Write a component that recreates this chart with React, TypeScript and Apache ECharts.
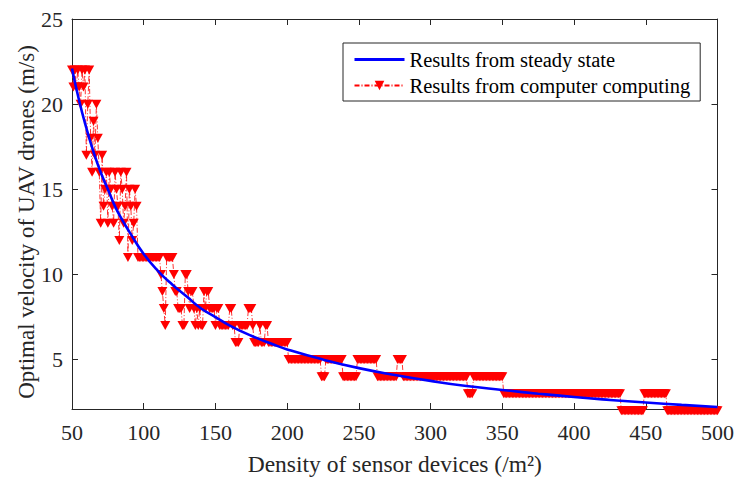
import React, { useEffect, useRef } from "react";
import * as echarts from "echarts";

// Steady-state curve
const steadyDensity = [50, 55, 60, 65, 70, 75, 80, 85, 90, 100, 110, 120, 130, 140, 150, 160, 175, 190, 200, 225, 250, 275, 300, 325, 350, 375, 400, 425, 450, 475, 500];
const steadyVelocity = [22.1, 20.2, 18.6, 17.2, 16.0, 15.0, 14.0, 13.2, 12.5, 11.2, 10.2, 9.4, 8.7, 8.0, 7.5, 7.0, 6.4, 5.9, 5.6, 5.0, 4.5, 4.1, 3.75, 3.45, 3.22, 3.0, 2.8, 2.63, 2.48, 2.34, 2.22];

// Computer computing results: runs of [first density, last density, velocity]
const computedRuns: [number, number, number][] = [
  [50, 50, 22], [51, 51, 21], [52, 52, 22], [53, 53, 21], [54, 54, 22], [55, 55, 21], [56, 56, 20], [57, 57, 22],
  [58, 58, 21], [59, 59, 22], [60, 60, 17], [61, 61, 20], [62, 62, 22], [63, 63, 18], [64, 64, 16], [65, 65, 19],
  [66, 66, 17], [67, 67, 20], [68, 68, 18], [69, 69, 16], [70, 70, 13], [71, 71, 17], [72, 72, 14], [73, 73, 15],
  [74, 74, 16], [75, 75, 13], [76, 76, 16], [77, 77, 15], [78, 78, 14], [79, 79, 13], [80, 80, 16], [81, 81, 15],
  [82, 82, 14], [83, 83, 12], [84, 84, 16], [85, 85, 15], [86, 86, 13], [87, 87, 14], [88, 88, 16], [89, 89, 11],
  [90, 90, 15], [91, 91, 14], [92, 92, 12], [93, 93, 13], [94, 94, 15], [95, 95, 14], [96, 111, 11], [112, 112, 10],
  [113, 113, 9], [114, 114, 8], [115, 115, 7], [116, 120, 11], [121, 121, 10], [122, 123, 9], [124, 126, 8],
  [127, 128, 7], [129, 130, 10], [131, 131, 9], [132, 132, 8], [133, 134, 9], [135, 135, 8], [136, 136, 7],
  [137, 137, 8], [138, 138, 7], [139, 139, 8], [140, 141, 7], [142, 142, 9], [143, 143, 8], [144, 145, 9],
  [146, 149, 8], [150, 150, 7], [151, 152, 8], [153, 159, 7], [160, 161, 8], [162, 163, 7], [164, 166, 6],
  [167, 172, 7], [173, 175, 8], [176, 176, 7], [177, 180, 6], [181, 181, 7], [182, 184, 6], [185, 186, 7],
  [187, 200, 6], [201, 223, 5], [224, 226, 4], [227, 238, 5], [239, 248, 4], [249, 262, 5], [263, 276, 4],
  [277, 280, 5], [281, 325, 4], [326, 329, 3], [330, 350, 4], [351, 432, 3], [433, 448, 2], [449, 464, 3],
  [465, 500, 2],
];

const xTicks = [50, 100, 150, 200, 250, 300, 350, 400, 450, 500];
const yTicks = [5, 10, 15, 20, 25];

const FONT = "'Liberation Serif', 'Times New Roman', serif";
const AX = "#262626";

export default function App() {
  const ref = useRef<HTMLDivElement>(null);
  useEffect(() => {
    if (!ref.current) return;
    const chart = echarts.init(ref.current, undefined, { renderer: "svg" });
    const computed: [number, number][] = [];
    computedRuns.forEach(([a, b, v]) => {
      for (let x = a; x <= b; x++) computed.push([x, v]);
    });
    const steady = steadyDensity.map((d, i) => [d, steadyVelocity[i]]);
    const axisLineStyle = { color: AX, width: 1 };
    chart.setOption({
      animation: false,
      backgroundColor: "#fff",
      textStyle: { fontFamily: FONT },
      grid: { left: 72, right: 15, top: 19, bottom: 71 },
      graphic: [
        {
          type: "text",
          x: 26,
          y: 222,
          rotation: Math.PI / 2,
          style: {
            text: "Optimal velocity of UAV drones (m/s)",
            fontFamily: FONT,
            fontSize: 23,
            fill: AX,
            align: "center",
            verticalAlign: "middle",
          },
        },
      ],
      legend: {
        data: [
          { name: "Results from steady state", itemStyle: { opacity: 0 }, lineStyle: { width: 3 } },
          { name: "Results from computer computing" },
        ],
        orient: "vertical",
        left: 343,
        top: 43,
        width: 350,
        padding: [6, 10, 5, 10],
        itemGap: 5,
        itemWidth: 50,
        itemHeight: 12,
        backgroundColor: "#fff",
        borderColor: AX,
        borderWidth: 1,
        textStyle: { fontFamily: FONT, fontSize: 20.5, color: "#000" },
      },
      xAxis: [
        {
          type: "value",
          min: 50,
          max: 500,
          interval: 50,
          name: "Density of sensor devices (/m²)",
          nameLocation: "middle",
          nameGap: 43,
          nameTextStyle: { fontFamily: FONT, fontSize: 23.5, color: AX },
          axisLine: { show: true, lineStyle: axisLineStyle },
          axisTick: { show: true, inside: true, length: 6, lineStyle: axisLineStyle, customValues: xTicks },
          axisLabel: { fontFamily: FONT, fontSize: 22, color: AX, margin: 12, customValues: xTicks },
          splitLine: { show: false },
        },
        {
          type: "value",
          position: "top",
          min: 50,
          max: 500,
          interval: 50,
          axisLine: { show: true, lineStyle: axisLineStyle },
          axisTick: { show: true, inside: true, length: 6, lineStyle: axisLineStyle },
          axisLabel: { show: false },
          splitLine: { show: false },
        },
      ],
      yAxis: [
        {
          type: "value",
          min: 2.1,
          max: 25,
          axisLine: { show: true, lineStyle: axisLineStyle },
          axisTick: { show: true, inside: true, length: 6, lineStyle: axisLineStyle, customValues: yTicks },
          axisLabel: { fontFamily: FONT, fontSize: 22, color: AX, margin: 9, customValues: yTicks },
          splitLine: { show: false },
        },
        {
          type: "value",
          position: "right",
          min: 2.1,
          max: 25,
          axisLine: { show: true, lineStyle: axisLineStyle },
          axisTick: { show: true, inside: true, length: 6, lineStyle: axisLineStyle, customValues: yTicks },
          axisLabel: { show: false, customValues: yTicks },
          splitLine: { show: false },
        },
      ],
      series: [
        {
          name: "Results from steady state",
          type: "line",
          data: steady,
          smooth: true,
          symbol: "none",
          z: 4,
          lineStyle: { color: "#0000ff", width: 2.6 },
          itemStyle: { color: "#0000ff" },
        },
        {
          name: "Results from computer computing",
          type: "line",
          data: computed,
          clip: false,
          z: 3,
          showAllSymbol: true,
          symbol: "path://M0,0 L10,0 L5,9 Z",
          symbolSize: [10, 9],
          itemStyle: { color: "#ff0000" },
          lineStyle: { color: "#ff0000", width: 0.8, type: [5, 2, 1, 2] },
        },
      ],
    });
    return () => chart.dispose();
  }, []);
  return (
    <div
      ref={ref}
      style={{ position: "fixed", left: 0, top: 0, width: 737, height: 481, background: "#fff" }}
    />
  );
}
